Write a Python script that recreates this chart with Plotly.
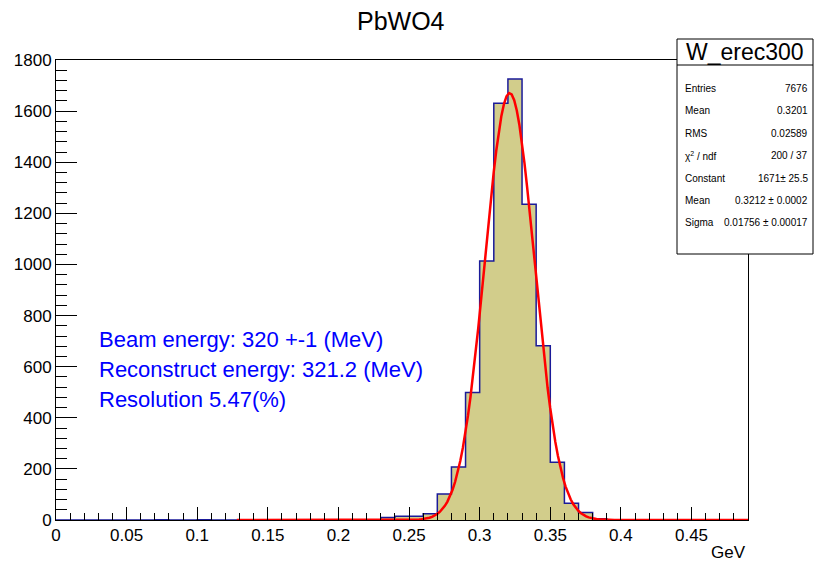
import numpy as np
import plotly.graph_objects as go

# Histogram W_erec300: 49 bins of 0.01 GeV from 0 to 0.49
bin_width = 0.01
bin_low_edges = [round(i * bin_width, 2) for i in range(49)]
counts = [0] * 49
nonzero_bins = {
    7: 1, 10: 1,
    23: 10, 24: 15, 25: 15, 26: 24,
    27: 102, 28: 207, 29: 499, 30: 1013, 31: 1631, 32: 1726,
    33: 1236, 34: 682, 35: 226, 36: 66, 37: 29, 38: 5,
}
for i, c in nonzero_bins.items():
    counts[i] = c

# Gaussian fit parameters
fit_constant = 1671.0
fit_mean = 0.3212
fit_sigma = 0.01756
fit_range = (0.128, 0.49)

stats_labels = ["Entries", "Mean", "RMS", "χ<sup>2</sup> / ndf", "Constant", "Mean", "Sigma"]
stats_values = ["7676", "0.3201", "0.02589", "200 / 37", "1671± 25.5", "0.3212 ± 0.0002", "0.01756 ± 0.00017"]

info_lines = [
    "Beam energy: 320 +-1 (MeV)",
    "Reconstruct energy: 321.2 (MeV)",
    "Resolution 5.47(%)",
]

W, H = 815, 563
L, R, T, B = 56, 748, 60, 520
FONT = "Liberation Sans, Arial, Helvetica, sans-serif"


def px(x):
    return (x - L) / (R - L)


def py(y):
    return (B - y) / (B - T)


centers = [e + bin_width / 2 for e in bin_low_edges]
step_x = bin_low_edges + [round(bin_low_edges[-1] + bin_width, 2)]
step_y = counts + [counts[-1]]

x_fit = np.linspace(fit_range[0], fit_range[1], 200)
y_fit = fit_constant * np.exp(-0.5 * ((x_fit - fit_mean) / fit_sigma) ** 2)

fig = go.Figure()
fig.add_trace(go.Bar(
    x=centers, y=counts, width=bin_width,
    marker=dict(color="#d2cd8b", line=dict(width=0)),
    hoverinfo="skip", showlegend=False,
))
fig.add_trace(go.Scatter(
    x=step_x, y=step_y, mode="lines", line=dict(shape="hv", color="#1a1a99", width=1.5),
    hoverinfo="skip", showlegend=False,
))
fig.add_trace(go.Scatter(
    x=x_fit, y=y_fit, mode="lines", line=dict(color="#ff0000", width=2.5),
    hoverinfo="skip", showlegend=False,
))

fig.update_layout(
    width=W, height=H,
    margin=dict(l=L, r=W - R, t=T, b=H - B),
    paper_bgcolor="white", plot_bgcolor="white",
    bargap=0,
    font=dict(family=FONT, color="black", size=17),
    xaxis=dict(
        range=[0, 0.49], tickmode="linear", tick0=0, dtick=0.05,
        ticks="inside", ticklen=13, tickwidth=1, tickcolor="black",
        minor=dict(dtick=0.01, tick0=0, ticks="inside", ticklen=7, tickcolor="black", showgrid=False),
        showline=True, linecolor="black", linewidth=1, mirror=True,
        showgrid=False, zeroline=False, tickfont=dict(size=17),
    ),
    yaxis=dict(
        range=[0, 1800], tickmode="linear", tick0=0, dtick=200,
        ticks="inside", ticklen=21, tickwidth=1, tickcolor="black",
        minor=dict(dtick=40, tick0=0, ticks="inside", ticklen=11, tickcolor="black", showgrid=False),
        showline=True, linecolor="black", linewidth=1, mirror=True,
        showgrid=False, zeroline=False, tickfont=dict(size=17),
    ),
)

annotations = []
# Title
annotations.append(dict(
    x=px(401), y=py(21), xref="paper", yref="paper", text="PbWO4",
    showarrow=False, xanchor="center", yanchor="middle", font=dict(size=25),
))
# Axis title
annotations.append(dict(
    x=1.0, y=py(552), xref="paper", yref="paper", text="GeV",
    showarrow=False, xanchor="right", yanchor="middle", font=dict(size=17),
))
# Info text
for k, line in enumerate(info_lines):
    annotations.append(dict(
        x=px(97), y=py(339 + 30 * k), xref="paper", yref="paper", text=line,
        showarrow=False, xanchor="left", yanchor="middle",
        font=dict(size=22, color="#0000ff"),
    ))

# Stats box
box_x0, box_x1, box_y0, box_y1, box_title_y = 677, 813, 39, 254, 65
shapes = [
    dict(type="rect", xref="paper", yref="paper",
         x0=px(box_x0), x1=px(box_x1), y0=py(box_y1), y1=py(box_y0),
         fillcolor="white", line=dict(color="black", width=1), layer="above"),
    dict(type="line", xref="paper", yref="paper",
         x0=px(box_x0), x1=px(box_x1), y0=py(box_title_y), y1=py(box_title_y),
         line=dict(color="black", width=1), layer="above"),
]
annotations.append(dict(
    x=px((box_x0 + box_x1) / 2), y=py(52), xref="paper", yref="paper", text="W_erec300",
    showarrow=False, xanchor="center", yanchor="middle", font=dict(size=23),
))
for k, (lab, val) in enumerate(zip(stats_labels, stats_values)):
    yy = py(88.5 + 22.4 * k)
    annotations.append(dict(
        x=px(683), y=yy, xref="paper", yref="paper", text=lab,
        showarrow=False, xanchor="left", yanchor="middle", font=dict(size=10),
    ))
    annotations.append(dict(
        x=px(810), y=yy, xref="paper", yref="paper", text=val,
        showarrow=False, xanchor="right", yanchor="middle", font=dict(size=10),
    ))

fig.update_layout(annotations=annotations, shapes=shapes)
fig.write_html("out.html")
